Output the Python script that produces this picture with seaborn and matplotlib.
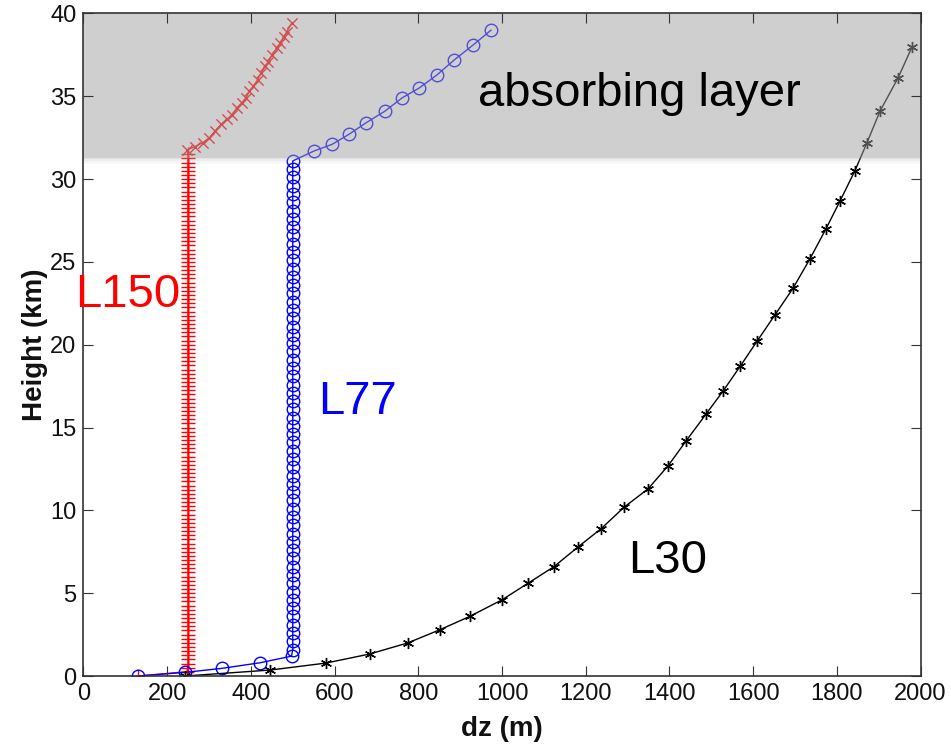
import numpy as np
import pandas as pd
import matplotlib
matplotlib.use('Agg')
import matplotlib.pyplot as plt
import seaborn as sns

# L30 levels (dz in m, height in km)
l30_dz = [242, 446, 579, 684, 775, 852, 923, 1000, 1062, 1124, 1182, 1237, 1292, 1349, 1397,
          1440, 1487, 1528, 1569, 1609, 1652, 1695, 1736, 1774, 1808, 1843, 1872, 1903, 1946, 1980]
l30_h = [0.0, 0.36, 0.78, 1.33, 2.0, 2.8, 3.6, 4.6, 5.6, 6.6, 7.8, 8.9, 10.2, 11.3, 12.7,
         14.2, 15.8, 17.2, 18.7, 20.2, 21.8, 23.4, 25.2, 27.0, 28.7, 30.5, 32.2, 34.1, 36.1, 38.0]

# L77: bottom, constant 500 m section, absorbing layer
l77_bot_dz = [131, 243, 330, 422, 497]
l77_bot_h = [0.0, 0.22, 0.46, 0.8, 1.2]
l77_mid_dz = 500
l77_mid_h = [1.6, 2.1, 2.6, 3.1, 3.6, 4.1, 4.6, 5.1, 5.6, 6.1,
             6.6, 7.1, 7.6, 8.1, 8.6, 9.1, 9.6, 10.1, 10.6, 11.1,
             11.6, 12.1, 12.6, 13.1, 13.6, 14.1, 14.6, 15.1, 15.6, 16.1,
             16.6, 17.1, 17.6, 18.1, 18.6, 19.1, 19.6, 20.1, 20.6, 21.1,
             21.6, 22.1, 22.6, 23.1, 23.6, 24.1, 24.6, 25.1, 25.6, 26.1,
             26.6, 27.1, 27.6, 28.1, 28.6, 29.1, 29.6, 30.1, 30.6, 31.1]
l77_top_dz = [551, 594, 634, 675, 720, 761, 802, 845, 886, 931, 974]
l77_top_h = [31.7, 32.1, 32.7, 33.4, 34.1, 34.9, 35.5, 36.3, 37.2, 38.1, 39.0]

# L150: bottom, constant 250 m section, absorbing layer
l150_bot_dz = [131, 247]
l150_bot_h = [0.0, 0.26]
l150_mid_dz = 250
l150_mid_h = [0.5, 0.75, 1.0, 1.25, 1.5, 1.75, 2.0, 2.25,
              2.5, 2.75, 3.0, 3.25, 3.5, 3.75, 4.0, 4.25,
              4.5, 4.75, 5.0, 5.25, 5.5, 5.75, 6.0, 6.25,
              6.5, 6.75, 7.0, 7.25, 7.5, 7.75, 8.0, 8.25,
              8.5, 8.75, 9.0, 9.25, 9.5, 9.75, 10.0, 10.25,
              10.5, 10.75, 11.0, 11.25, 11.5, 11.75, 12.0, 12.25,
              12.5, 12.75, 13.0, 13.25, 13.5, 13.75, 14.0, 14.25,
              14.5, 14.75, 15.0, 15.25, 15.5, 15.75, 16.0, 16.25,
              16.5, 16.75, 17.0, 17.25, 17.5, 17.75, 18.0, 18.25,
              18.5, 18.75, 19.0, 19.25, 19.5, 19.75, 20.0, 20.25,
              20.5, 20.75, 21.0, 21.25, 21.5, 21.75, 22.0, 22.25,
              22.5, 22.75, 23.0, 23.25, 23.5, 23.75, 24.0, 24.25,
              24.5, 24.75, 25.0, 25.25, 25.5, 25.75, 26.0, 26.25,
              26.5, 26.75, 27.0, 27.25, 27.5, 27.75, 28.0, 28.25,
              28.5, 28.75, 29.0, 29.25, 29.5, 29.75, 30.0, 30.25,
              30.5, 30.75, 31.0, 31.25, 31.5]
l150_top_dz = [247, 266, 285, 301, 314, 329, 342, 356, 366, 378, 388, 396,
               406, 416, 424, 434, 442, 450, 462, 470, 479, 486, 497]
l150_top_h = [31.76, 31.96, 32.2, 32.5, 32.9, 33.3, 33.6, 33.9, 34.3, 34.6, 34.9, 35.3,
              35.6, 36.0, 36.4, 36.8, 37.1, 37.5, 37.9, 38.2, 38.6, 38.9, 39.4]

absorb_bottom = 31.3

sns.set_style('ticks')
plt.rcParams['font.family'] = ['Liberation Sans', 'DejaVu Sans']
plt.rcParams['xtick.direction'] = 'in'
plt.rcParams['ytick.direction'] = 'in'
plt.rcParams['xtick.top'] = True
plt.rcParams['ytick.right'] = True

l77 = pd.DataFrame({
    'dz': l77_bot_dz + [l77_mid_dz] * len(l77_mid_h) + l77_top_dz,
    'h': l77_bot_h + l77_mid_h + l77_top_h})
l150_low = pd.DataFrame({
    'dz': l150_bot_dz + [l150_mid_dz] * len(l150_mid_h),
    'h': l150_bot_h + l150_mid_h})
l150_top = pd.DataFrame({'dz': l150_top_dz, 'h': l150_top_h})
l150 = pd.concat([l150_low, l150_top], ignore_index=True)
l30 = pd.DataFrame({'dz': l30_dz, 'h': l30_h})

fig = plt.figure(figsize=(9.51, 7.45), dpi=100)
ax = fig.add_axes([0.0878, 0.0926, 0.8802, 0.8893])

# L150 red
sns.lineplot(data=l150, x='dz', y='h', sort=False, estimator=None, color='red', lw=1, ax=ax)
sns.scatterplot(data=l150_low, x='dz', y='h', marker='+', color='red', s=110, linewidth=1, ax=ax)
sns.scatterplot(data=l150_top, x='dz', y='h', marker='x', color='red', s=55, linewidth=1, ax=ax)

# L77 blue
sns.lineplot(data=l77, x='dz', y='h', sort=False, estimator=None, color='blue', lw=1,
             marker='o', markersize=9, markerfacecolor='none', markeredgecolor='blue',
             markeredgewidth=1, ax=ax)

# L30 black
sns.lineplot(data=l30, x='dz', y='h', sort=False, estimator=None, color='black', lw=1,
             marker=(6, 2, 0), markersize=8, markeredgewidth=1, markeredgecolor='black', ax=ax)

# absorbing layer shading drawn over the lines, with a soft lower edge
ax.axhspan(absorb_bottom, 40, color='#a0a0a0', alpha=0.5, lw=0, zorder=4)
for k, a in enumerate([0.3, 0.2, 0.1, 0.05]):
    ax.axhspan(absorb_bottom - 0.1 * (k + 1), absorb_bottom - 0.1 * k,
               color='#a0a0a0', alpha=a, lw=0, zorder=4)

ax.text(943, 34.4, 'absorbing layer', fontsize=34, color='black', va='baseline', zorder=7)
ax.text(-20, 22.3, 'L150', fontsize=34, color='red', va='baseline', zorder=7, clip_on=False)
ax.text(560, 15.8, 'L77', fontsize=34, color='blue', va='baseline', zorder=7)
ax.text(1301, 6.2, 'L30', fontsize=34, color='black', va='baseline', zorder=7)

ax.set_xlim(0, 2000)
ax.set_ylim(0, 40)
ax.set_xticks(range(0, 2001, 200))
ax.set_yticks(range(0, 41, 5))
ax.tick_params(labelsize=17, length=7, width=0.8, color='#333333', labelcolor='#111111', pad=5)
ax.set_xlabel('dz (m)', fontsize=20, fontweight='bold', labelpad=8, color='#111111')
ax.set_ylabel('Height (km)', fontsize=20, fontweight='bold', labelpad=2, color='#111111')
for s in ax.spines.values():
    s.set_linewidth(1.2)
    s.set_color('#333333')
    s.set_zorder(6)
ax.xaxis.set_zorder(6)
ax.yaxis.set_zorder(6)

fig.savefig('out.png', dpi=100)
